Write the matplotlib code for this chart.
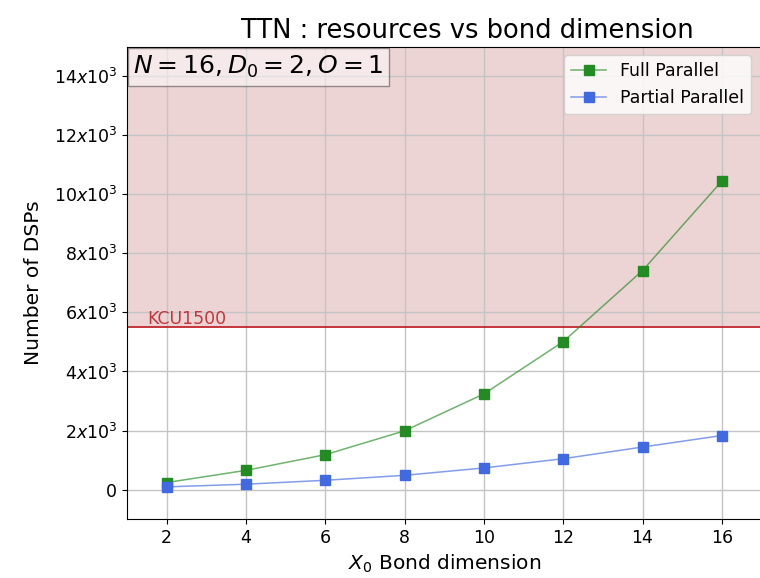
import matplotlib.pyplot as plt
import matplotlib.ticker as mticker
from matplotlib.colors import to_rgba

bond_dim = [2, 4, 6, 8, 10, 12, 14, 16]
full_parallel = [236, 650, 1180, 1990, 3240, 5010, 7420, 10450]
partial_parallel = [90, 180, 313, 482, 731, 1045, 1440, 1830]
kcu1500_dsps = 5520

fig = plt.figure(figsize=(7.6, 5.78), dpi=100)
ax = fig.add_axes([0.167, 0.102, 0.835, 0.817])

ax.axhspan(kcu1500_dsps, 15000, color='brown', alpha=0.2, lw=0)
ax.axhline(kcu1500_dsps, color='#c0272d', lw=1.3)
ax.text(1.5, kcu1500_dsps + 80, 'KCU1500', color='#c0272d', fontsize=12.5, alpha=0.9)

ax.plot(bond_dim, full_parallel, color=to_rgba('forestgreen', 0.65), lw=1.1, marker='s',
        markersize=7.5, markerfacecolor='forestgreen', markeredgecolor='forestgreen',
        label='Full Parallel')
ax.plot(bond_dim, partial_parallel, color=to_rgba('royalblue', 0.65), lw=1.1, marker='s',
        markersize=7.5, markerfacecolor='royalblue', markeredgecolor='royalblue',
        label='Partial Parallel')

ax.set_xlim(1, 17)
ax.set_ylim(-1000, 15000)
ax.set_xticks(bond_dim)
ax.set_yticks(range(0, 15000, 2000))
ax.yaxis.set_major_formatter(mticker.FuncFormatter(
    lambda v, p: '0' if v == 0 else r'$%dx10^3$' % (v / 1000)))
ax.tick_params(labelsize=12.5)
ax.grid(True, color='#c4c4c4', lw=1)

ax.set_title('TTN : resources vs bond dimension', fontsize=18.5, x=0.536)
ax.set_xlabel('$X_0$ Bond dimension', fontsize=14.5)
ax.set_ylabel('Number of DSPs', fontsize=14.5, labelpad=8)

ax.text(0.01, 0.985, '$N=16, D_0=2, O=1$', transform=ax.transAxes, fontsize=18,
        va='top', ha='left',
        bbox=dict(boxstyle='square,pad=0.22', facecolor='white', alpha=0.5, edgecolor='#333333'))
ax.legend(loc='upper right', fontsize=12.5, bbox_to_anchor=(0.997, 1.0))

fig.savefig('out.png', dpi=100)
